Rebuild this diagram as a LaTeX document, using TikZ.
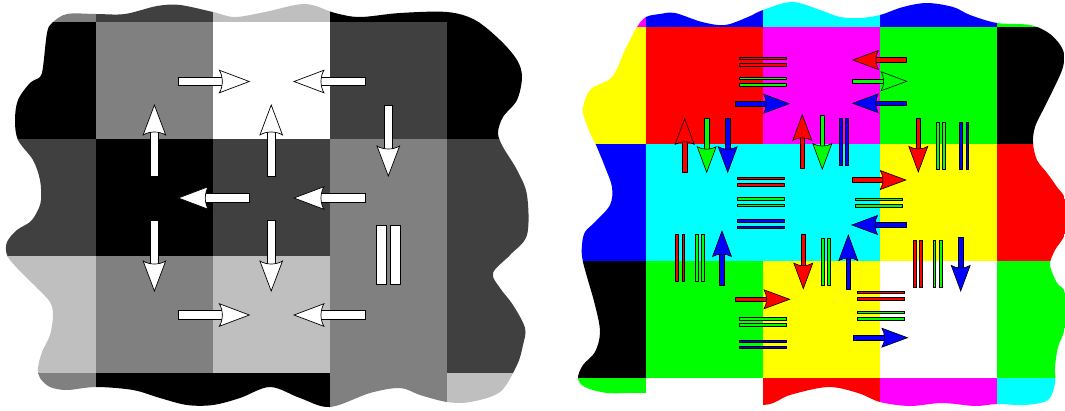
\documentclass[tikz,border=0pt]{standalone}
\definecolor{gA}{gray}{0.25}
\definecolor{gB}{gray}{0.5}
\definecolor{gC}{gray}{0.75}
\definecolor{cR}{RGB}{255,0,0}
\definecolor{cG}{RGB}{0,255,0}
\definecolor{cB}{RGB}{0,0,255}
\definecolor{cC}{RGB}{0,255,255}
\definecolor{cM}{RGB}{255,0,255}
\definecolor{cY}{RGB}{255,255,0}
\definecolor{cK}{RGB}{0,0,0}
\definecolor{cW}{RGB}{255,255,255}
\tikzset{
  pics/bigarrow/.style={code={
    \filldraw[fill=#1,draw=black,line width=0.7pt] (-35.5,-4.3) rectangle (9,4.3);
    \filldraw[fill=#1,draw=black,line width=0.7pt,line join=miter] (5.5,-11.3) -- (35.5,0) -- (5.5,11.3) .. controls (9.5,5) and (9.5,-5) .. (5.5,-11.3) -- cycle;
  }},
  pics/smallarrow/.style={code={
    \filldraw[fill=#1,draw=black,line width=0.6pt] (-27,-2.4) rectangle (4.4,2.4);
    \filldraw[fill=#1,draw=black,line width=0.6pt,line join=miter] (1.4,-9.5) -- (27,0) -- (1.4,9.5) .. controls (4.8,4) and (4.8,-4) .. (1.4,-9.5) -- cycle;
  }},
  pics/bigbars/.style={code={
    \filldraw[fill=#1,draw=black,line width=0.7pt] (-29.3,-12.15) rectangle (29.3,-2.15);
    \filldraw[fill=#1,draw=black,line width=0.7pt] (-29.3,2.15) rectangle (29.3,12.15);
  }},
  pics/smallbars/.style={code={
    \filldraw[fill=#1,draw=black,line width=0.5pt] (-23.5,-4.45) rectangle (23.5,-1.85);
    \filldraw[fill=#1,draw=black,line width=0.5pt] (-23.5,1.85) rectangle (23.5,4.45);
  }}
}
\newcommand\cellL[3]{\fill[#3] ({96+(#1)*116.9-0.2},{22.6+(#2)*116.9-0.2}) rectangle ++(117.3,117.3);}
\newcommand\cellR[3]{\fill[#3] ({646+(#1)*116.9-0.2},{27.4+(#2)*116.9-0.2}) rectangle ++(117.3,117.3);}
\begin{document}
\begin{tikzpicture}[x=1pt,y=-1pt]
\useasboundingbox (0,0) rectangle (1065,410);
% ---------------- left panel ----------------
\begin{scope}
\clip plot[smooth cycle, tension=0.55] coordinates {
(52,23) (67,14) (96,14) (125,14) (157,6) (180,5) (213,12) (235,17) (265,12) (305,4) (335,13) (360,17) (400,13) (447,12) (475,20) (500,40) (517,60) (522,77) (517,100) (503,117) (498,133) (503,147) (517,170) (527,195) (527,235) (510,255) (493,273) (500,288) (513,305) (525,328) (523,345) (517,365) (500,392) (470,402) (447,402) (420,395) (400,388) (370,393) (330,407) (300,398) (270,387) (240,398) (213,405) (187,405) (160,398) (133,390) (96,387) (67,390) (50,387) (40,378) (38,368) (42,352) (50,335) (53,315) (50,302) (37,288) (17,268) (7,255) (7,242) (17,230) (30,222) (37,212) (41,200) (40,180) (33,160) (18,140) (15,120) (18,100) (30,83) (40,77) (43,67) (47,33)};
\cellL{-1}{-1}{gB}\cellL{0}{-1}{gA}\cellL{1}{-1}{gC}\cellL{2}{-1}{cK}\cellL{3}{-1}{cK}
\cellL{-1}{0}{cK}\cellL{0}{0}{gB}\cellL{1}{0}{cW}\cellL{2}{0}{gA}\cellL{3}{0}{cK}
\cellL{-1}{1}{gA}\cellL{0}{1}{cK}\cellL{1}{1}{gA}\cellL{2}{1}{gB}\cellL{3}{1}{gA}
\cellL{-1}{2}{gC}\cellL{0}{2}{gB}\cellL{1}{2}{gC}\cellL{2}{2}{gB}\cellL{3}{2}{gA}
\cellL{-1}{3}{gB}\cellL{0}{3}{cK}\cellL{1}{3}{cK}\cellL{2}{3}{gB}\cellL{3}{3}{gC}
\end{scope}
% left symbols
\pic at (213.8,81.5) {bigarrow=cW};
\pic[rotate=180] at (329.5,81.5) {bigarrow=cW};
\pic[rotate=180] at (213.8,198) {bigarrow=cW};
\pic[rotate=180] at (329.5,198) {bigarrow=cW};
\pic at (213.8,315) {bigarrow=cW};
\pic[rotate=180] at (329.5,315) {bigarrow=cW};
\pic[rotate=90] at (154.4,140.5) {bigarrow=cW};
\pic[rotate=90] at (271.2,140.5) {bigarrow=cW};
\pic[rotate=-90] at (388.3,140.5) {bigarrow=cW};
\pic[rotate=-90] at (154.4,255.5) {bigarrow=cW};
\pic[rotate=-90] at (271.2,255.5) {bigarrow=cW};
\pic[rotate=90] at (388.2,255) {bigbars=cW};
% ---------------- right panel ----------------
\begin{scope}
\clip plot[smooth cycle, tension=0.55] coordinates {
(637,27) (646,17) (660,14) (675,13) (702,22) (725,25) (748,17) (763,10) (792,2) (820,10) (840,17) (860,18) (880,15) (903,7) (927,3) (953,7) (970,15) (997,23) (1030,25) (1050,34) (1063,50) (1063,67) (1053,90) (1043,110) (1035,127) (1033,143) (1037,160) (1047,173) (1057,187) (1065,200) (1065,233) (1055,250) (1050,265) (1057,283) (1065,293) (1065,327) (1058,347) (1055,367) (1055,383) (1048,400) (1025,405) (997,404) (975,406) (942,403) (910,406) (880,402) (858,393) (828,387) (790,395) (763,405) (705,398) (646,393) (608,393) (585,387) (578,378) (583,365) (595,352) (600,332) (595,305) (583,262) (582,245) (585,232) (595,222) (610,205) (612,187) (605,167) (596,145) (590,133) (583,113) (585,100) (592,88) (612,77) (625,50)};
\cellR{-1}{-1}{cM}\cellR{0}{-1}{cB}\cellR{1}{-1}{cC}\cellR{2}{-1}{cB}\cellR{3}{-1}{cG}
\cellR{-1}{0}{cY}\cellR{0}{0}{cR}\cellR{1}{0}{cM}\cellR{2}{0}{cG}\cellR{3}{0}{cK}
\cellR{-1}{1}{cB}\cellR{0}{1}{cC}\cellR{1}{1}{cC}\cellR{2}{1}{cY}\cellR{3}{1}{cR}
\cellR{-1}{2}{cK}\cellR{0}{2}{cG}\cellR{1}{2}{cY}\cellR{2}{2}{cW}\cellR{3}{2}{cG}
\cellR{-1}{3}{cG}\cellR{0}{3}{cW}\cellR{1}{3}{cR}\cellR{2}{3}{cM}\cellR{3}{3}{cC}
\end{scope}
% right symbols: horizontal edges
\pic at (762.5,61.3) {smallbars=cR};
\pic at (762.5,81.3) {smallbars=cG};
\pic at (762.3,103.7) {smallarrow=cB};
\pic[rotate=180] at (879.7,60) {smallarrow=cR};
\pic at (879.7,81.3) {smallarrow=cG};
\pic[rotate=180] at (879.7,103.3) {smallarrow=cB};
\pic at (761.2,181.3) {smallbars=cR};
\pic at (761.2,202) {smallbars=cG};
\pic at (761.2,224) {smallbars=cB};
\pic at (878.9,180) {smallarrow=cR};
\pic at (878.9,202.3) {smallbars=cG};
\pic[rotate=180] at (878.9,225) {smallarrow=cB};
\pic at (762.6,299.3) {smallarrow=cR};
\pic at (762.9,321.7) {smallbars=cG};
\pic at (762.9,344.2) {smallbars=cB};
\pic at (880.7,295.3) {smallbars=cR};
\pic at (880.7,315.3) {smallbars=cG};
\pic at (880.5,337.7) {smallarrow=cB};
% right symbols: vertical edges
\pic[rotate=90] at (684.7,145.7) {smallarrow=cR};
\pic[rotate=-90] at (706.7,145.3) {smallarrow=cG};
\pic[rotate=-90] at (727.7,145.3) {smallarrow=cB};
\pic[rotate=90] at (802.3,141.7) {smallarrow=cR};
\pic[rotate=-90] at (822.3,142.2) {smallarrow=cG};
\pic[rotate=90] at (843.7,141.5) {smallbars=cB};
\pic[rotate=-90] at (918.3,145) {smallarrow=cR};
\pic[rotate=90] at (940.7,145.3) {smallbars=cG};
\pic[rotate=90] at (964,145.3) {smallbars=cB};
\pic[rotate=90] at (680,257.7) {smallbars=cR};
\pic[rotate=90] at (699.7,257.7) {smallbars=cG};
\pic[rotate=90] at (722,258) {smallarrow=cB};
\pic[rotate=-90] at (803.3,261.7) {smallarrow=cR};
\pic[rotate=90] at (825.7,262) {smallbars=cG};
\pic[rotate=90] at (848.3,262) {smallarrow=cB};
\pic[rotate=90] at (917.7,264) {smallbars=cR};
\pic[rotate=90] at (937.3,264) {smallbars=cG};
\pic[rotate=-90] at (960.7,264) {smallarrow=cB};
\end{tikzpicture}
\end{document}
